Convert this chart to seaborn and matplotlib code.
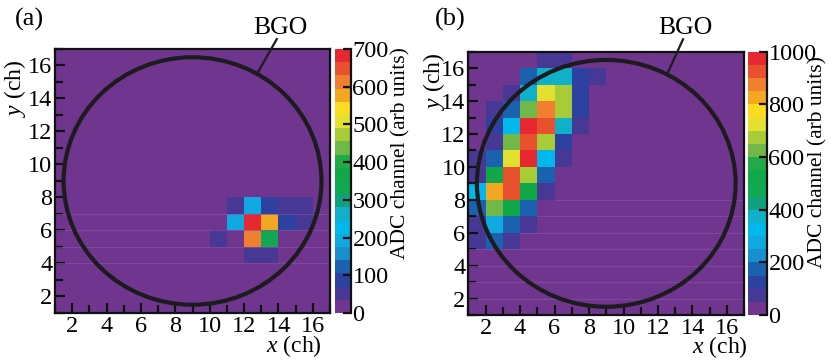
import numpy as np
import pandas as pd
import matplotlib
matplotlib.use('Agg')
import matplotlib.pyplot as plt
from matplotlib.colors import ListedColormap
from matplotlib.patches import Circle
import seaborn as sns

channels = list(range(1, 17))

# panel (a): pads with signal (x ch, y ch, ADC)
a_x = [11, 12, 13, 14, 15, 11, 12, 13, 14, 15, 10, 12, 13, 12, 13]
a_y = [7, 7, 7, 7, 7, 6, 6, 6, 6, 6, 5, 5, 5, 4, 4]
a_adc = [50, 190, 85, 50, 50, 190, 680, 575, 85, 50, 50, 610, 340, 50, 50]

# panel (b)
b_x = [5, 6,
       4, 5, 6, 7, 8,
       3, 4, 5, 6, 7,
       2, 3, 4, 5, 6, 7,
       2, 3, 4, 5, 6, 7,
       2, 3, 4, 5, 6,
       1, 2, 3, 4, 5, 6,
       1, 2, 3, 4, 5,
       1, 2, 3, 4, 5,
       1, 2, 3, 4,
       1, 2, 3, 4,
       1, 2, 3]
b_y = [16, 16,
       15, 15, 15, 15, 15,
       14, 14, 14, 14, 14,
       13, 13, 13, 13, 13, 13,
       12, 12, 12, 12, 12, 12,
       11, 11, 11, 11, 11,
       10, 10, 10, 10, 10, 10,
       9, 9, 9, 9, 9,
       8, 8, 8, 8, 8,
       7, 7, 7, 7,
       6, 6, 6, 6,
       5, 5, 5]
b_adc = [75, 75,
         175, 375, 375, 125, 75,
         75, 375, 725, 675, 125,
         75, 175, 625, 875, 675, 125,
         125, 325, 975, 925, 375, 75,
         75, 625, 925, 675, 125,
         75, 175, 725, 975, 325, 75,
         75, 525, 925, 675, 175,
         325, 825, 925, 525, 75,
         175, 625, 525, 175,
         75, 275, 175, 75,
         75, 175, 75]

a_ticks = [0, 100, 200, 300, 400, 500, 600, 700]
b_ticks = [0, 200, 400, 600, 800, 1000]

palette = ['#70358f', '#473896', '#2d41a0', '#1a62b0', '#1890d0',
           '#10a8e0', '#00b8ec', '#10b0c8', '#10a080', '#10a850',
           '#10a848', '#20aa48', '#70b848', '#a8cc38', '#e4e030',
           '#fcdc20', '#f4a822', '#f08030', '#e8502e', '#e82830']
cmap = ListedColormap(palette)

plt.rcParams['font.family'] = 'Liberation Serif'
plt.rcParams['mathtext.fontset'] = 'custom'
plt.rcParams['mathtext.rm'] = 'Liberation Serif'
plt.rcParams['mathtext.it'] = 'Liberation Serif:italic'

FS = 17.5      # tick labels
LFS = 17       # axis titles


def to_grid(xs, ys, vals):
    df = pd.DataFrame({'x': xs, 'y': ys, 'adc': vals})
    grid = df.pivot(index='y', columns='x', values='adc')
    return grid.reindex(index=channels, columns=channels).fillna(0)


def panel(fig, rect, crect, xs, ys, vals, vmax, cticks, bgo_xy, bgo_ang,
          bgo_txt, lines):
    ax = fig.add_axes(rect)
    cax = fig.add_axes(crect)
    grid = to_grid(xs, ys, vals)
    sns.heatmap(grid, ax=ax, cmap=cmap, vmin=0, vmax=vmax, cbar_ax=cax,
                cbar_kws={'ticks': cticks}, xticklabels=False,
                yticklabels=False, linewidths=0)
    ax.invert_yaxis()
    ax.set_xlim(0, 16)
    ax.set_ylim(0, 16)
    ax.set_xlabel('')
    ax.set_ylabel('')

    # faint scan lines seen in the print
    for yy, x0 in lines:
        ax.plot([x0 - 1, 16], [yy - 1, yy - 1], color='#8452a6', lw=0.6,
                alpha=0.8, zorder=2)

    for s in ax.spines.values():
        s.set_visible(True)
        s.set_linewidth(1.6)
        s.set_color('#111111')

    major = list(range(2, 17, 2))
    ax.set_xticks([c - 1 for c in major])
    ax.set_xticklabels([str(c) for c in major], fontsize=FS)
    ax.set_yticks([c - 1 for c in major])
    ax.set_yticklabels([str(c) for c in major], fontsize=FS)
    ax.set_xticks([c - 1 for c in range(1, 18)], minor=True)
    ax.set_yticks([c - 1 for c in range(1, 18)], minor=True)
    ax.tick_params(which='both', direction='in', width=1.6, color='#111111',
                   top=False, right=False)
    ax.tick_params(which='major', length=7, pad=2)
    ax.tick_params(which='minor', length=6)

    # BGO crystal outline
    ax.add_patch(Circle((8, 8), 7.5, fill=False, lw=3.0, ec='#1c1c1c',
                        zorder=5))
    ang = np.deg2rad(bgo_ang)
    p0 = (8 + 7.5 * np.cos(ang), 8 + 7.5 * np.sin(ang))
    ax.plot([p0[0], bgo_xy[0] - 1], [p0[1], bgo_xy[1] - 1], color='#1c1c1c',
            lw=1.6, clip_on=False, zorder=5)
    ax.text(bgo_txt[0] - 1, bgo_txt[1] - 1, 'BGO', fontsize=18.5, ha='center',
            va='center', clip_on=False)

    cbar = ax.collections[0].colorbar
    cbar.outline.set_visible(False)
    cax.tick_params(direction='in', length=6, width=1.6, color='#111111',
                    labelsize=FS, pad=1)
    cax.plot([1, 1], [0, 1], transform=cax.transAxes, color='#111111',
             lw=1.6, clip_on=False)
    return ax, cax


fig = plt.figure(figsize=(8.31, 3.6), dpi=100)

panel(fig, [0.0662, 0.1306, 0.331, 0.7333], [0.4031, 0.1306, 0.0193, 0.7333],
      a_x, a_y, a_adc, 700, a_ticks, (13.9, 17.6), 60,
      (14.1, 18.3), [(7, 1), (6, 1), (5, 1), (4, 1)])
panel(fig, [0.5635, 0.125, 0.3321, 0.7314], [0.9005, 0.125, 0.0225, 0.7314],
      b_x, b_y, b_adc, 1000, b_ticks, (13.45, 17.75), 62,
      (13.6, 18.45), [(8, 6), (7, 5), (6, 4), (5, 1), (4, 1), (3, 1), (2, 1)])

# panel tags and axis titles
fig.text(29 / 831, 1 - 19 / 360, '(a)', fontsize=19, ha='center', va='center')
fig.text(450 / 831, 1 - 19 / 360, '(b)', fontsize=19, ha='center', va='center')
fig.text(322 / 831, 1 - 346 / 360, '$x$ (ch)', fontsize=LFS, ha='right',
         va='center')
fig.text(748 / 831, 1 - 347 / 360, '$x$ (ch)', fontsize=LFS, ha='right',
         va='center')
fig.text(15 / 831, 1 - 60 / 360, '$y$ (ch)', fontsize=LFS, ha='center',
         va='top', rotation=90)
fig.text(434 / 831, 1 - 53 / 360, '$y$ (ch)', fontsize=LFS, ha='center',
         va='top', rotation=90)
fig.text(401 / 831, 1 - 47 / 360, 'ADC channel (arb units)', fontsize=15.5,
         ha='center', va='top', rotation=90)
fig.text(818 / 831, 1 - 56 / 360, 'ADC channel (arb units)', fontsize=15.5,
         ha='center', va='top', rotation=90)

fig.savefig('out.png', dpi=100)
